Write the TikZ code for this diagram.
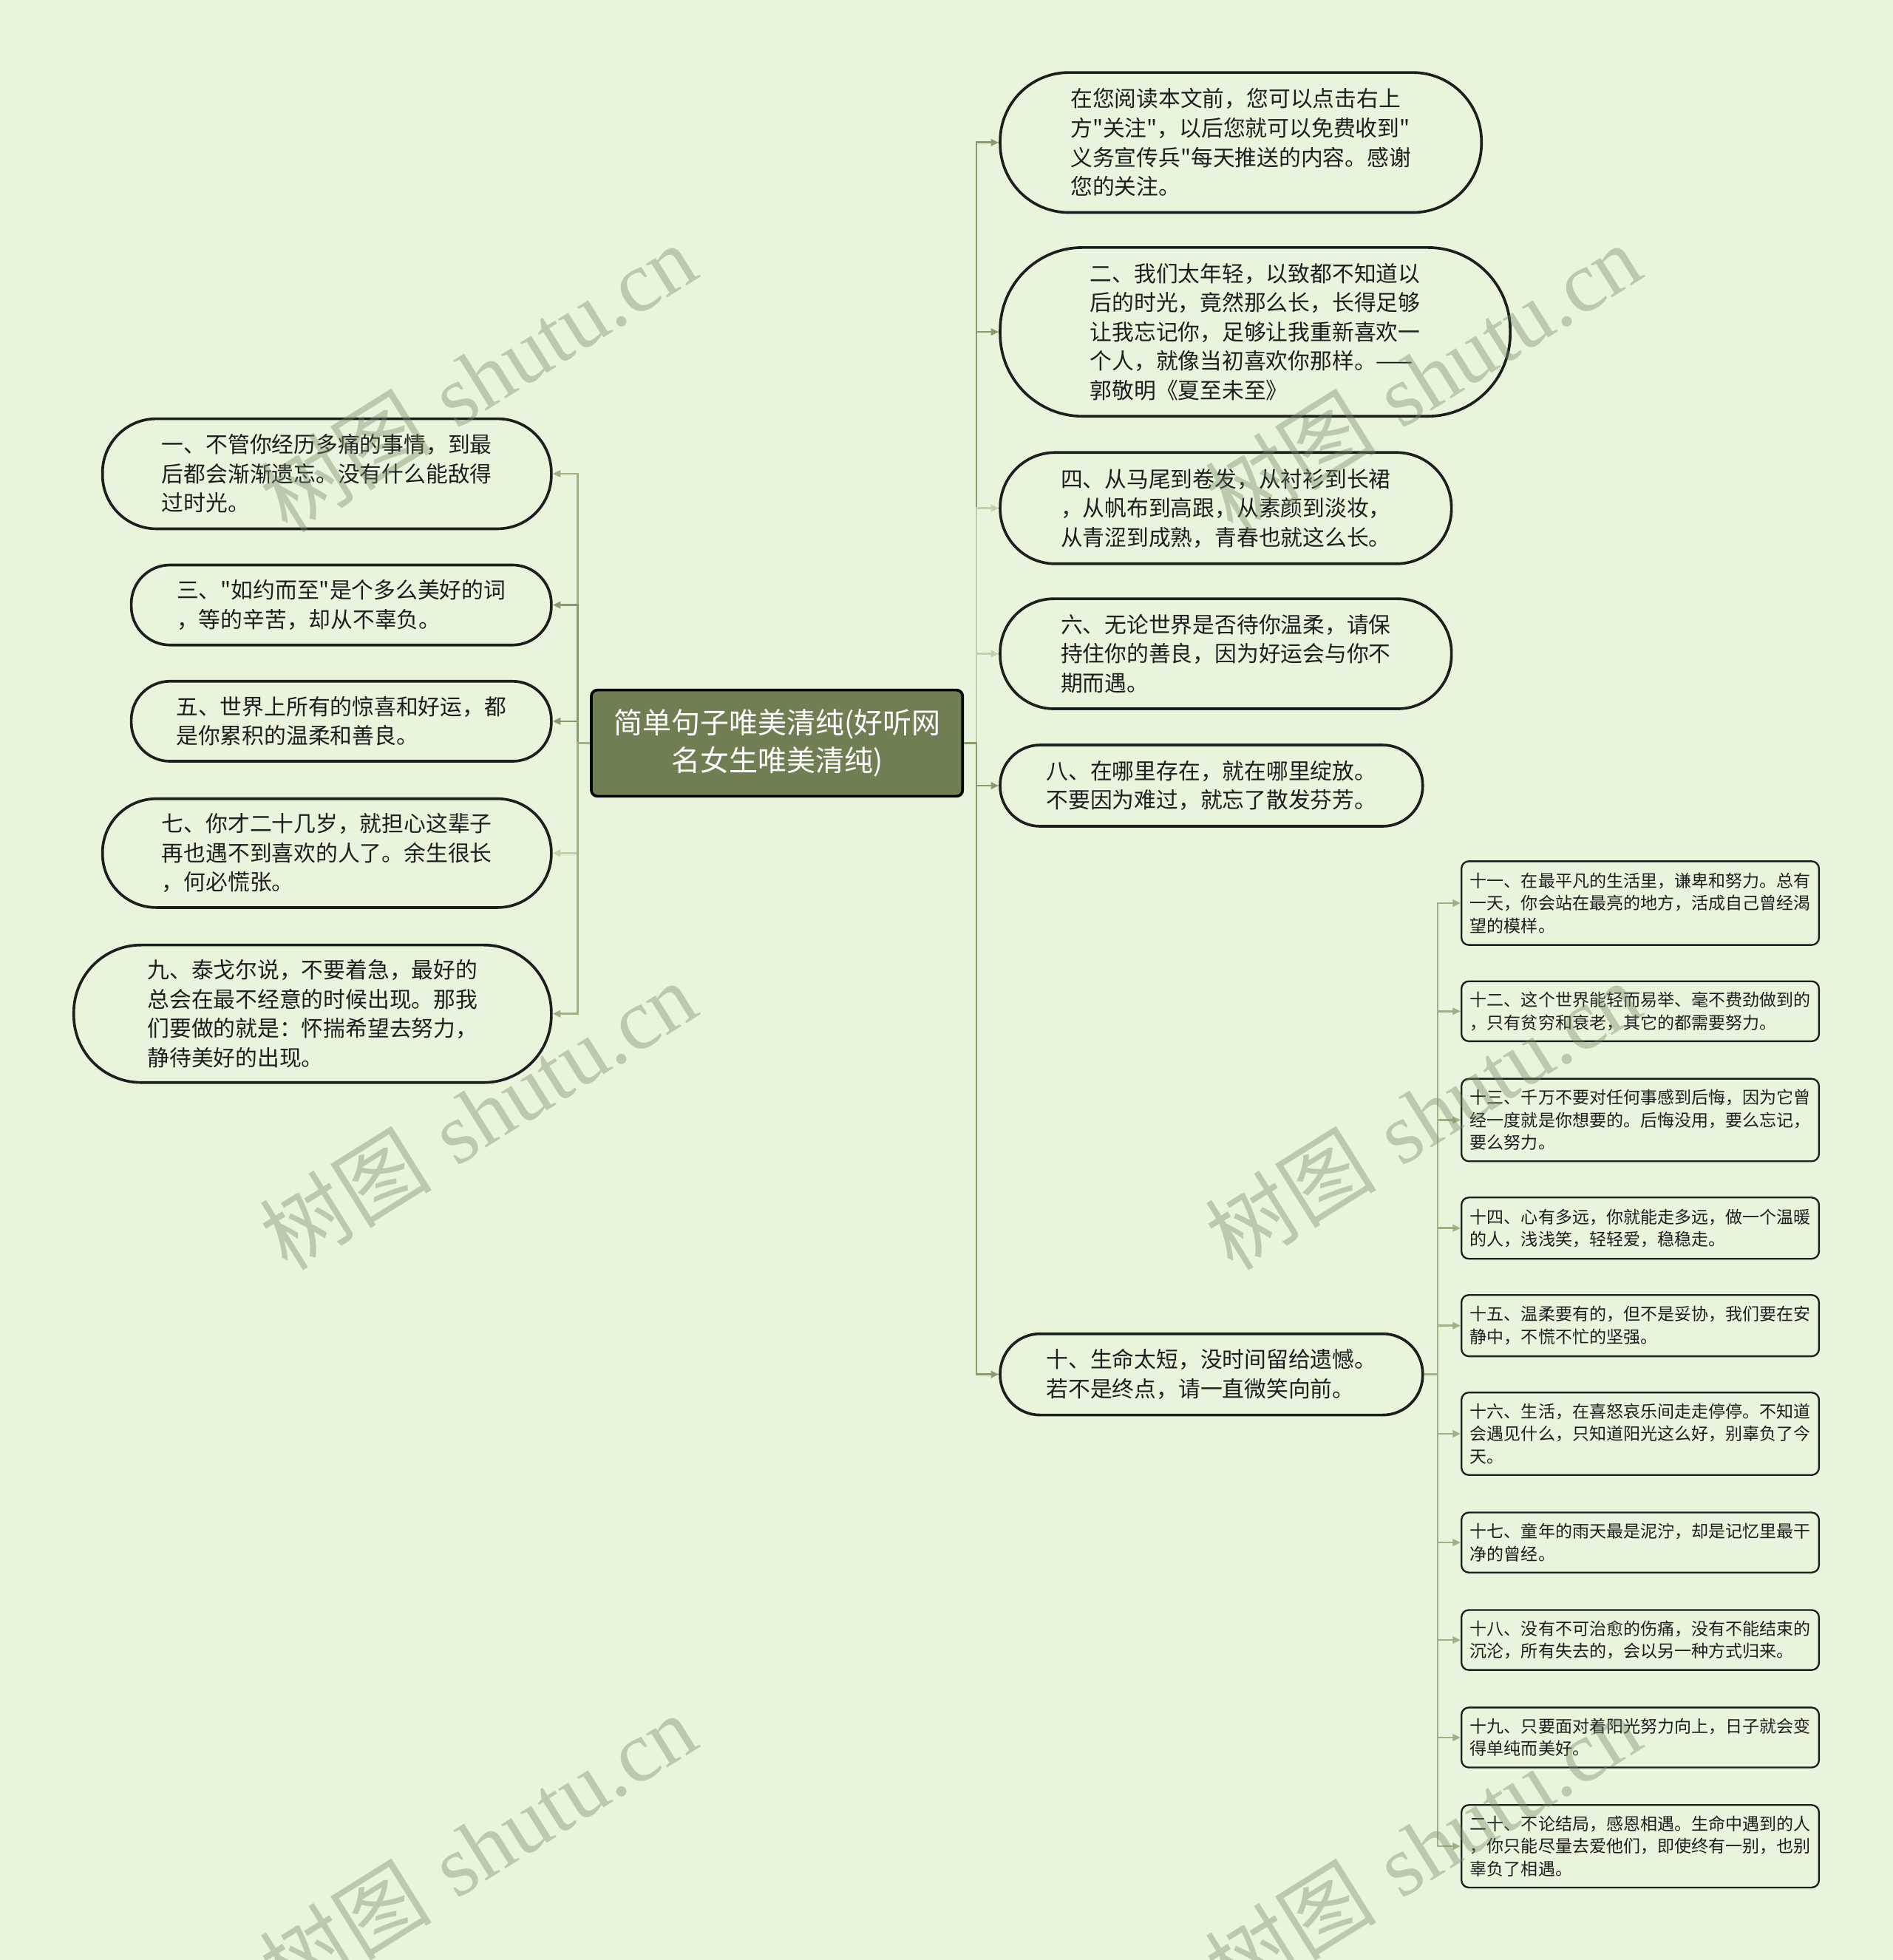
\documentclass[tikz,border=0pt]{standalone}
\usepackage{fontspec}
\newfontfamily\cjk{Noto Sans CJK SC}
\newfontfamily\wmserif{Liberation Serif}
\usetikzlibrary{arrows.meta}
\definecolor{bg}{RGB}{232,245,220}
\definecolor{hub}{RGB}{111,127,83}
\definecolor{lnk}{RGB}{138,154,108}
\definecolor{lnkm}{RGB}{160,176,132}
\definecolor{lnkl}{RGB}{192,210,168}
\definecolor{ink}{RGB}{30,30,30}
\def\pxu{0.50727pt}
\begin{document}
\begin{tikzpicture}[x=0.50727pt,y=-0.50727pt,
  mainbox/.style={draw=ink, line width=1.1pt, fill=bg, text=ink, inner sep=0pt,
    align=left, font=\cjk\fontsize{8.93pt}{11.85pt}\selectfont},
  smallbox/.style={draw=ink, line width=0.7pt, fill=bg, text=ink, inner sep=0pt,
    rounded corners=3pt, align=left, minimum width=286*\pxu,
    font=\cjk\fontsize{6.9pt}{9.1pt}\selectfont},
  hubbox/.style={draw=black, line width=1.1pt, fill=hub, text=white, inner sep=0pt,
    rounded corners=2.5pt, align=center, font=\cjk\fontsize{11.7pt}{15.3pt}\selectfont},
  conn/.style={line width=0.8pt, -{Triangle[length=3.2pt,width=2.8pt]}},
  wmark/.style={rotate=32, text={rgb,255:red,120;green,136;blue,104}, text opacity=0.40,
    inner sep=0pt, font=\fontsize{35pt}{37pt}\selectfont}
]
\fill[bg] (0,0) rectangle (1514,1568);
\useasboundingbox (0,0) rectangle (1514,1568);

% hub
\node[hubbox, minimum width=297*\pxu, minimum height=85*\pxu] (c) at (621.5,594.5)
  {简单句子唯美清纯(好听网\\名女生唯美清纯)};

% right branch
\node[mainbox, minimum width=385*\pxu, minimum height=112*\pxu, rounded corners=55*\pxu] (r1) at (992.5,114)
  {在您阅读本文前，您可以点击右上\\方"关注"，以后您就可以免费收到"\\义务宣传兵"每天推送的内容。感谢\\您的关注。};
\node[mainbox, minimum width=408*\pxu, minimum height=135*\pxu, rounded corners=66*\pxu] (r2) at (1004,265.5)
  {二、我们太年轻，以致都不知道以\\后的时光，竟然那么长，长得足够\\让我忘记你，足够让我重新喜欢一\\个人，就像当初喜欢你那样。——\\郭敬明《夏至未至》};
\node[mainbox, minimum width=361*\pxu, minimum height=89*\pxu, rounded corners=44*\pxu] (r3) at (980.5,406.5)
  {四、从马尾到卷发，从衬衫到长裙\\，从帆布到高跟，从素颜到淡妆，\\从青涩到成熟，青春也就这么长。};
\node[mainbox, minimum width=361*\pxu, minimum height=88*\pxu, rounded corners=43*\pxu] (r4) at (980.5,523)
  {六、无论世界是否待你温柔，请保\\持住你的善良，因为好运会与你不\\期而遇。};
\node[mainbox, minimum width=338*\pxu, minimum height=65*\pxu, rounded corners=32*\pxu] (r5) at (969,628.5)
  {八、在哪里存在，就在哪里绽放。\\不要因为难过，就忘了散发芬芳。};
\node[mainbox, minimum width=338*\pxu, minimum height=65*\pxu, rounded corners=32*\pxu] (r6) at (969,1099.5)
  {十、生命太短，没时间留给遗憾。\\若不是终点，请一直微笑向前。};

% left branch
\node[mainbox, minimum width=359*\pxu, minimum height=88*\pxu, rounded corners=43*\pxu] (l1) at (261.5,379)
  {一、不管你经历多痛的事情，到最\\后都会渐渐遗忘。没有什么能敌得\\过时光。};
\node[mainbox, minimum width=336*\pxu, minimum height=64*\pxu, rounded corners=31*\pxu] (l2) at (273,484)
  {三、"如约而至"是个多么美好的词\\，等的辛苦，却从不辜负。};
\node[mainbox, minimum width=336*\pxu, minimum height=64*\pxu, rounded corners=31*\pxu] (l3) at (273,577)
  {五、世界上所有的惊喜和好运，都\\是你累积的温柔和善良。};
\node[mainbox, minimum width=359*\pxu, minimum height=87*\pxu, rounded corners=43*\pxu] (l4) at (261.5,682.5)
  {七、你才二十几岁，就担心这辈子\\再也遇不到喜欢的人了。余生很长\\，何必慌张。};
\node[mainbox, minimum width=382*\pxu, minimum height=110*\pxu, rounded corners=54*\pxu] (l5) at (250,811)
  {九、泰戈尔说，不要着急，最好的\\总会在最不经意的时候出现。那我\\们要做的就是：怀揣希望去努力，\\静待美好的出现。};

% sub branch of r6
\node[smallbox, minimum height=67*\pxu] (s11) at (1312,722.5)
  {十一、在最平凡的生活里，谦卑和努力。总有\\一天，你会站在最亮的地方，活成自己曾经渴\\望的模样。};
\node[smallbox, minimum height=48*\pxu] (s12) at (1312,809)
  {十二、这个世界能轻而易举、毫不费劲做到的\\，只有贫穷和衰老，其它的都需要努力。};
\node[smallbox, minimum height=66*\pxu] (s13) at (1312,896)
  {十三、千万不要对任何事感到后悔，因为它曾\\经一度就是你想要的。后悔没用，要么忘记，\\要么努力。};
\node[smallbox, minimum height=49*\pxu] (s14) at (1312,982.5)
  {十四、心有多远，你就能走多远，做一个温暖\\的人，浅浅笑，轻轻爱，稳稳走。};
\node[smallbox, minimum height=49*\pxu] (s15) at (1312,1060.5)
  {十五、温柔要有的，但不是妥协，我们要在安\\静中，不慌不忙的坚强。};
\node[smallbox, minimum height=66*\pxu] (s16) at (1312,1147)
  {十六、生活，在喜怒哀乐间走走停停。不知道\\会遇见什么，只知道阳光这么好，别辜负了今\\天。};
\node[smallbox, minimum height=48*\pxu] (s17) at (1312,1234)
  {十七、童年的雨天最是泥泞，却是记忆里最干\\净的曾经。};
\node[smallbox, minimum height=48*\pxu] (s18) at (1312,1312)
  {十八、没有不可治愈的伤痛，没有不能结束的\\沉沦，所有失去的，会以另一种方式归来。};
\node[smallbox, minimum height=48*\pxu] (s19) at (1312,1390)
  {十九、只要面对着阳光努力向上，日子就会变\\得单纯而美好。};
\node[smallbox, minimum height=66*\pxu] (s20) at (1312,1477)
  {二十、不论结局，感恩相遇。生命中遇到的人\\，你只能尽量去爱他们，即使终有一别，也别\\辜负了相遇。};

% junctions
\coordinate (rj) at (781,594.5);
\coordinate (lj) at (462,594.5);
\coordinate (sj) at (1150,1099.5);

% connectors right
\draw[conn, lnk]  (c.east) -- (rj) |- (r1.west);
\draw[conn, lnk]  (c.east) -- (rj) |- (r2.west);
\draw[conn, lnkl] (c.east) -- (rj) |- (r3.west);
\draw[conn, lnkl] (c.east) -- (rj) |- (r4.west);
\draw[conn, lnk]  (c.east) -- (rj) |- (r5.west);
\draw[conn, lnk]  (c.east) -- (rj) |- (r6.west);
% connectors left
\draw[conn, lnkm] (c.west) -- (lj) |- (l1.east);
\draw[conn, lnk]  (c.west) -- (lj) |- (l2.east);
\draw[conn, lnk]  (c.west) -- (lj) |- (l3.east);
\draw[conn, lnkl] (c.west) -- (lj) |- (l4.east);
\draw[conn, lnkm] (c.west) -- (lj) |- (l5.east);
% connectors sub
\foreach \s in {s11,s12,s13,s14,s15,s16,s17,s18,s19,s20}
  \draw[conn, lnkm] (r6.east) -- (sj) |- (\s.west);

% watermarks
\foreach \wx in {382,1138}
  \foreach \wy in {302,892,1478}
    \node[wmark] (wm-\wx-\wy) at (\wx,\wy) {{\cjk 树图} {\wmserif shutu.cn}};
\end{tikzpicture}
\end{document}
